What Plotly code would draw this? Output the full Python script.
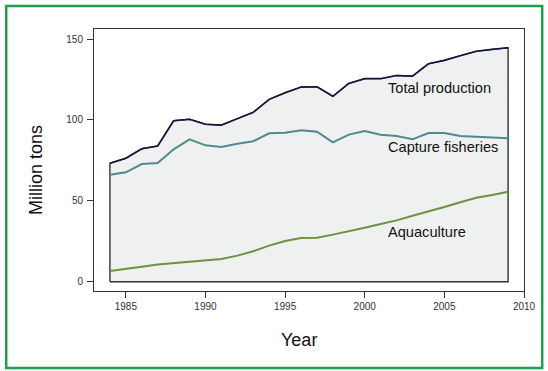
import plotly.graph_objects as go

years = list(range(1984, 2010))
total = [73.2, 76.3, 82.2, 83.9, 99.5, 100.4, 97.3, 96.8, 100.8, 104.7, 112.7, 116.8, 120.3,
         120.5, 114.6, 122.6, 125.5, 125.5, 127.5, 127.1, 134.7, 136.8, 139.7, 142.4, 143.6, 144.6]
capture = [66.1, 67.6, 72.7, 73.4, 81.8, 88.0, 84.3, 83.3, 85.3, 86.8, 91.7, 92.1, 93.6,
           92.7, 86.1, 90.9, 93.1, 90.9, 90.0, 88.0, 91.9, 91.9, 90.0, 89.8, 89.2, 88.6]
aquaculture = [6.6, 7.8, 9.3, 10.7, 11.5, 12.2, 13.2, 14.0, 16.1, 18.8, 22.3, 25.2, 27.0,
               27.2, 29.1, 31.1, 33.4, 35.7, 37.9, 40.8, 43.3, 46.2, 49.1, 51.9, 53.6, 55.6]
labels = ["Total production", "Capture fisheries", "Aquaculture"]
label_y = [119.9, 83.1, 30.9]
x_ticks = [1985, 1990, 1995, 2000, 2005, 2010]
y_ticks = [0, 50, 100, 150]

FONT = "Liberation Sans, Arial, Helvetica, sans-serif"

fig = go.Figure()

# shaded polygon under total production
poly_x = [years[0]] + years + [years[-1], years[0]]
poly_y = [0] + total + [0, 0]
fig.add_trace(go.Scatter(x=poly_x, y=poly_y, mode="lines", fill="toself",
                         fillcolor="#eff1f0", line=dict(color="#333333", width=1.4),
                         hoverinfo="skip", showlegend=False))

fig.add_trace(go.Scatter(x=years, y=aquaculture, mode="lines",
                         line=dict(color="#6e9140", width=2), showlegend=False))
fig.add_trace(go.Scatter(x=years, y=capture, mode="lines",
                         line=dict(color="#4f8b8e", width=2), showlegend=False))
fig.add_trace(go.Scatter(x=years, y=total, mode="lines",
                         line=dict(color="#15163f", width=1.6), showlegend=False))

for t, yv in zip(labels, label_y):
    fig.add_annotation(x=2001.31, y=yv, text=t, showarrow=False, xanchor="left",
                       yanchor="middle", font=dict(family=FONT, size=14.6, color="#111111"))

L, R, T, B = 94.3, 21.3, 29, 80
W, H = 548, 371
pw, ph = W - L - R, H - T - B

def px_x(p):
    return (p - L) / pw

def px_y(p):
    return (H - B - p) / ph

# axis titles
fig.add_annotation(x=px_x(36), y=px_y(170), xref="paper", yref="paper", text="Million tons",
                   textangle=-90, showarrow=False, xanchor="center", yanchor="middle",
                   font=dict(family=FONT, size=18, color="#111111"))
fig.add_annotation(x=px_x(300), y=px_y(340), xref="paper", yref="paper", text="Year",
                   showarrow=False, xanchor="center", yanchor="middle",
                   font=dict(family=FONT, size=18, color="#111111"))

# green outer border
fig.add_shape(type="rect", xref="paper", yref="paper",
              x0=px_x(6), x1=px_x(545), y0=px_y(368), y1=px_y(6),
              line=dict(color="#1f9e4b", width=2.5), fillcolor="rgba(0,0,0,0)", layer="above")

fig.update_xaxes(range=[1983, 2010], tickvals=x_ticks, ticks="outside", ticklen=6,
                 tickcolor="#333333", showline=True, linecolor="#333333", linewidth=1,
                 mirror=True, showgrid=False, zeroline=False,
                 tickfont=dict(family=FONT, size=10, color="#333333"))
fig.update_yaxes(range=[-5.75, 156.2], tickvals=y_ticks, ticks="outside", ticklen=6,
                 tickcolor="#333333", showline=True, linecolor="#333333", linewidth=1,
                 mirror=True, showgrid=False, zeroline=False, ticklabelstandoff=2,
                 tickfont=dict(family=FONT, size=10, color="#333333"))

fig.update_layout(width=W, height=H, margin=dict(l=L, r=R, t=T, b=B, pad=0),
                  paper_bgcolor="white", plot_bgcolor="white", showlegend=False,
                  font=dict(family=FONT))

fig.write_html("out.html", config={"displayModeBar": False},
               post_script="document.body.style.margin='0';document.body.style.padding='0';"
                           "document.body.style.overflow='hidden';")
